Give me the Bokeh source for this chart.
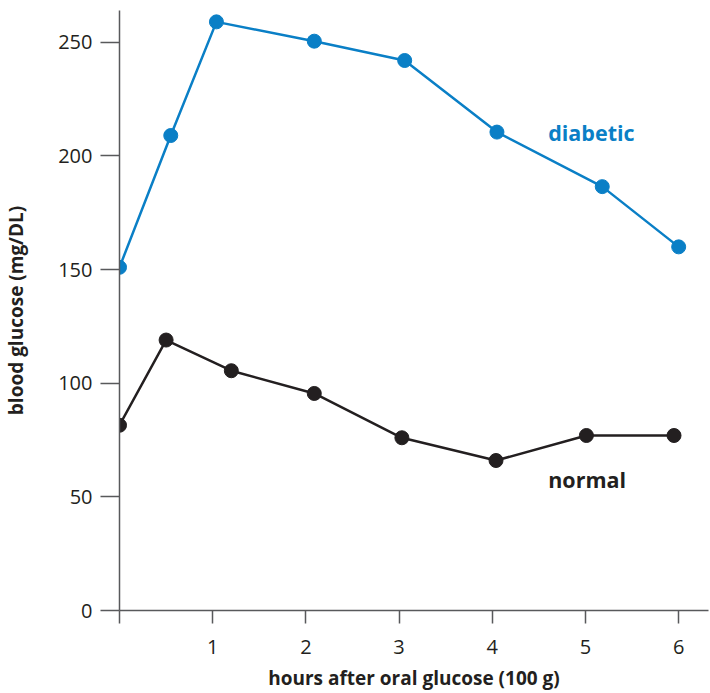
from bokeh.plotting import figure
from bokeh.models import Range1d, FixedTicker
from bokeh.core.properties import value
from bokeh.embed import file_html
from bokeh.resources import INLINE

# data
diabetic_hours = [0.0, 0.55, 1.04, 2.09, 3.06, 4.05, 5.18, 6.0]
diabetic_glucose = [151, 209, 259, 250.5, 242, 210.5, 186.5, 160]
normal_hours = [0.0, 0.5, 1.2, 2.09, 3.03, 4.04, 5.01, 5.95]
normal_glucose = [81.5, 119, 105.5, 95.5, 76, 66, 77, 77]
x_ticks = [0, 1, 2, 3, 4, 5, 6]
y_ticks = [0, 50, 100, 150, 200, 250]
series_labels = ["diabetic", "normal"]
label_x = [4.6, 4.6]
label_y = [210.5, 57.5]

BLUE = "#0a7fc6"
DARK = "#231f20"
AXIS = "#58595b"
FONT = "Open Sans"

p = figure(width=710, height=693, output_backend="svg", toolbar_location=None,
           x_range=Range1d(0, 6.32), y_range=Range1d(0, 264),
           min_border_left=118, min_border_top=10, min_border_bottom=83, min_border_right=2)
p.xgrid.visible = False
p.ygrid.visible = False
p.outline_line_color = None
p.background_fill_color = "white"
p.border_fill_color = "white"

p.line(diabetic_hours, diabetic_glucose, line_color=BLUE, line_width=2.5)
p.scatter(diabetic_hours, diabetic_glucose, size=14, fill_color=BLUE, line_color=BLUE)
p.line(normal_hours, normal_glucose, line_color=DARK, line_width=2.5)
p.scatter(normal_hours, normal_glucose, size=14, fill_color=DARK, line_color=DARK)

p.text(x=[label_x[0]], y=[label_y[0]], text=[series_labels[0]], text_color=BLUE,
       text_font=value(FONT), text_font_style="bold", text_font_size="21.5px",
       text_baseline="alphabetic", text_align="left")
p.text(x=[label_x[1]], y=[label_y[1]], text=[series_labels[1]], text_color=DARK,
       text_font=value(FONT), text_font_style="bold", text_font_size="21.5px",
       text_baseline="alphabetic", text_align="left")

xa = p.xaxis[0]
xa.ticker = FixedTicker(ticks=x_ticks)
xa.major_label_overrides = {0: ""}
xa.minor_tick_line_color = None
xa.major_tick_out = 13
xa.major_tick_in = 0
xa.major_label_standoff = 16
xa.axis_line_color = AXIS
xa.axis_line_width = 1.5
xa.major_tick_line_color = AXIS
xa.major_tick_line_width = 1.5
xa.major_label_text_font = FONT
xa.major_label_text_font_size = "20px"
xa.major_label_text_color = DARK
xa.axis_label = "hours after oral glucose (100 g)"
xa.axis_label_text_font = FONT
xa.axis_label_text_font_style = "bold"
xa.axis_label_text_font_size = "19px"
xa.axis_label_text_color = DARK
xa.axis_label_standoff = 8

ya = p.yaxis[0]
ya.ticker = FixedTicker(ticks=y_ticks)
ya.minor_tick_line_color = None
ya.major_tick_out = 19
ya.major_tick_in = 0
ya.major_label_standoff = 8
ya.axis_line_color = AXIS
ya.axis_line_width = 1.5
ya.major_tick_line_color = AXIS
ya.major_tick_line_width = 1.5
ya.major_label_text_font = FONT
ya.major_label_text_font_size = "20px"
ya.major_label_text_color = DARK
ya.axis_label = "blood glucose (mg/DL)"
ya.axis_label_text_font = FONT
ya.axis_label_text_font_style = "bold"
ya.axis_label_text_font_size = "19px"
ya.axis_label_text_color = DARK
ya.axis_label_standoff = 26

open("out.html", "w").write(file_html(p, INLINE))
